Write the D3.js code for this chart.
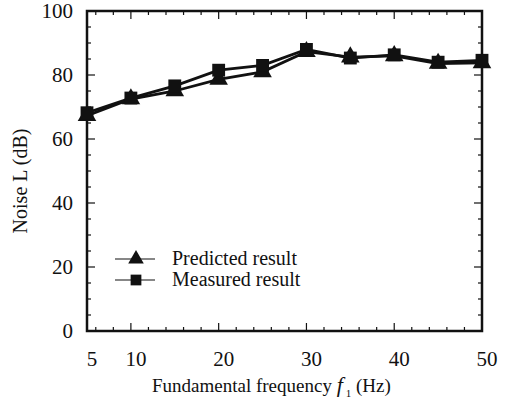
<!DOCTYPE html>
<html>
<head>
<meta charset="utf-8">
<script src="https://cdn.jsdelivr.net/npm/d3@7"></script>
<style>
  body { margin: 0; background: #fff; }
  text { font-family: "Liberation Serif", "DejaVu Serif", serif; fill: #111; }
</style>
</head>
<body>
<div id="chart"></div>
<script>
// data
const freqs = [5, 10, 15, 20, 25, 30, 35, 40, 45, 50];
const predicted = [67.3, 72.5, 75.0, 78.6, 81.0, 87.3, 85.6, 86.0, 83.6, 83.8];
const measured = [68.2, 72.8, 76.6, 81.5, 83.0, 88.0, 85.3, 86.3, 84.0, 84.6];
const xTicks = [5, 10, 20, 30, 40, 50];
const yTicks = [0, 20, 40, 60, 80, 100];

const width = 507, height = 403;
const margin = { top: 11, right: 25, bottom: 72, left: 87 };
const iw = width - margin.left - margin.right;
const ih = height - margin.top - margin.bottom;

const svg = d3.select('#chart').append('svg')
    .attr('width', width)
    .attr('height', height);

const g = svg.append('g')
    .attr('transform', `translate(${margin.left},${margin.top})`);

const x = d3.scaleLinear().domain([5, 50]).range([0, iw]);
const y = d3.scaleLinear().domain([0, 100]).range([ih, 0]);

// minor ticks every 2 Hz / 5 dB, major at labelled values
const xMinor = d3.range(6, 50, 2).filter(v => v % 10 !== 0);
const xMajor = [10, 20, 30, 40];
const yMinor = d3.range(5, 100, 5).filter(v => v % 20 !== 0);
const yMajor = [20, 40, 60, 80];

const tickG = g.append('g').attr('stroke', '#111').attr('stroke-width', 1.2);
[[xMinor, 4], [xMajor, 8]].forEach(([vals, len]) => {
    vals.forEach(v => {
        tickG.append('line').attr('x1', x(v)).attr('x2', x(v)).attr('y1', ih).attr('y2', ih - len);
        tickG.append('line').attr('x1', x(v)).attr('x2', x(v)).attr('y1', 0).attr('y2', len);
    });
});
[[yMinor, 4], [yMajor, 8]].forEach(([vals, len]) => {
    vals.forEach(v => {
        tickG.append('line').attr('x1', 0).attr('x2', len).attr('y1', y(v)).attr('y2', y(v));
        tickG.append('line').attr('x1', iw).attr('x2', iw - len).attr('y1', y(v)).attr('y2', y(v));
    });
});

// frame
g.append('rect')
    .attr('width', iw)
    .attr('height', ih)
    .attr('fill', 'none')
    .attr('stroke', '#111')
    .attr('stroke-width', 2.5);

// tick labels
g.append('g').selectAll('text')
    .data(xTicks)
    .enter().append('text')
    .attr('x', d => x(d) + 5)
    .attr('y', ih + 35)
    .attr('text-anchor', 'middle')
    .attr('font-size', '21px')
    .text(d => d);

g.append('g').selectAll('text')
    .data(yTicks)
    .enter().append('text')
    .attr('x', -14)
    .attr('y', d => y(d) + 7)
    .attr('text-anchor', 'end')
    .attr('font-size', '21px')
    .text(d => d);

// axis titles
const xt = svg.append('text')
    .attr('x', 152)
    .attr('y', 392)
    .attr('font-size', '19px');
xt.append('tspan').text('Fundamental frequency ');
xt.append('tspan').attr('font-style', 'italic').attr('font-size', '22px').text('f');
xt.append('tspan').attr('font-size', '11px').attr('dy', 5).attr('dx', 3).text('1');
xt.append('tspan').attr('dy', -5).text('  (Hz)');

svg.append('text')
    .attr('transform', `translate(27,${margin.top + ih / 2 + 10}) rotate(-90)`)
    .attr('text-anchor', 'middle')
    .attr('font-size', '20px')
    .text('Noise L (dB)');

// series
const line = d3.line()
    .x(d => x(d[0]))
    .y(d => y(d[1]));

const series = [
    { name: 'Predicted result', values: predicted, shape: d3.symbolTriangle, size: 150 },
    { name: 'Measured result', values: measured, shape: d3.symbolSquare, size: 165 }
];

series.forEach(s => {
    const pts = freqs.map((f, i) => [f, s.values[i]]);
    g.append('path')
        .datum(pts)
        .attr('d', line)
        .attr('fill', 'none')
        .attr('stroke', '#111')
        .attr('stroke-width', 2.8);
    g.append('g').selectAll('path')
        .data(pts)
        .enter().append('path')
        .attr('transform', d => `translate(${x(d[0])},${y(d[1])})`)
        .attr('d', d3.symbol().type(s.shape).size(s.size))
        .attr('fill', '#111');
});

// legend
const legend = g.append('g').attr('transform', 'translate(28,248)');
series.forEach((s, i) => {
    const row = legend.append('g').attr('transform', `translate(0,${i * 21})`);
    row.append('line')
        .attr('x1', 0).attr('x2', 40)
        .attr('stroke', '#111').attr('stroke-width', 1.2);
    row.append('path')
        .attr('transform', 'translate(21,0)')
        .attr('d', d3.symbol().type(s.shape).size(s.size * 0.7))
        .attr('fill', '#111');
    row.append('text')
        .attr('x', 57)
        .attr('y', 6)
        .attr('font-size', '20px')
        .text(s.name);
});
</script>
</body>
</html>
